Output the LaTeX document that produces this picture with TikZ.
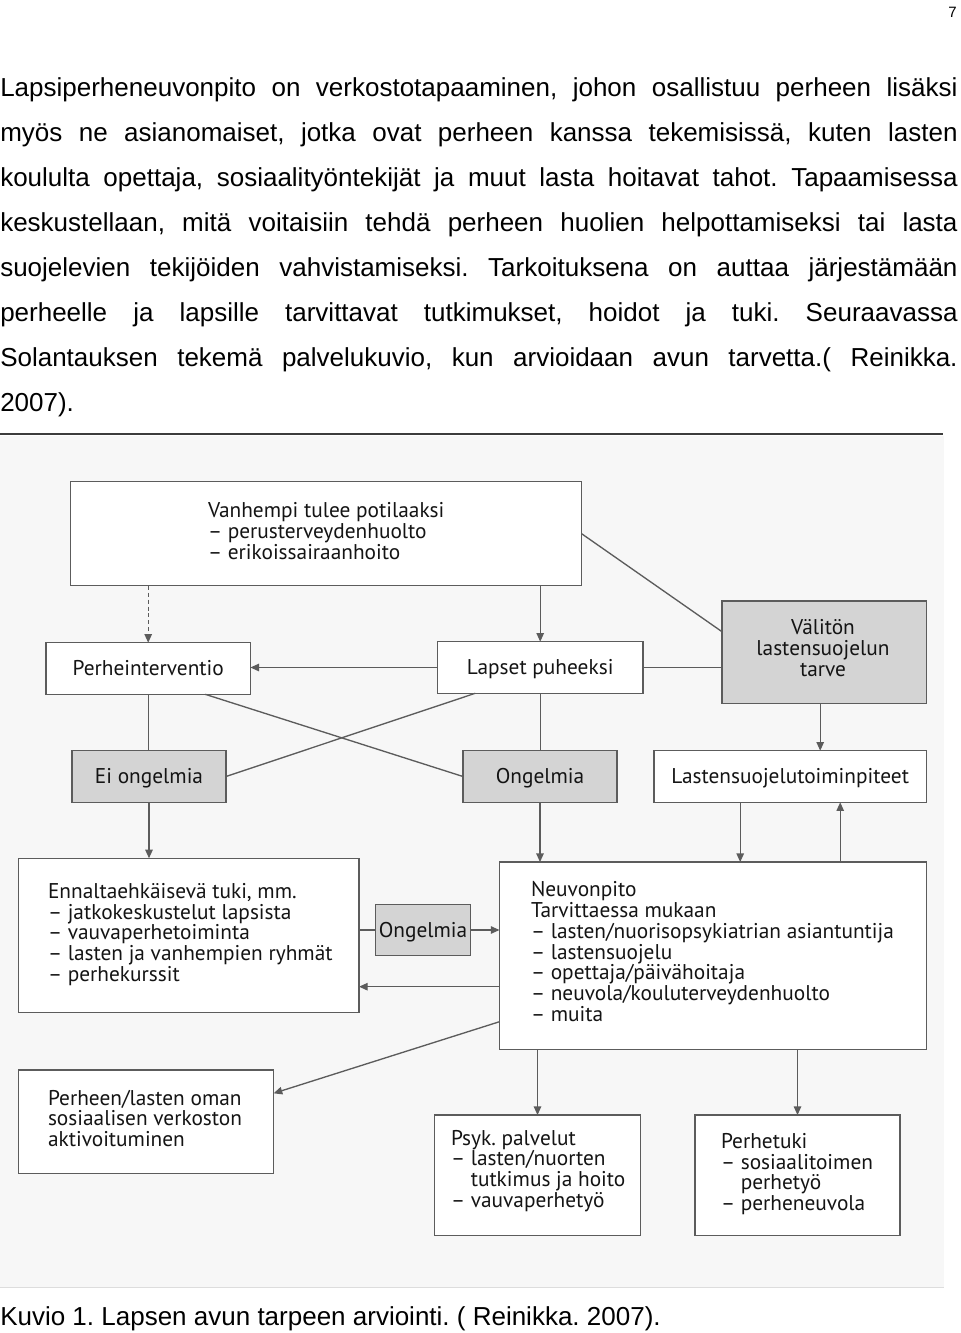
\documentclass[tikz,border=0pt]{standalone}
\usepackage{fontspec}
\setmainfont{Liberation Sans}
\newfontfamily\dfont{PT Sans}
\usetikzlibrary{arrows.meta,calc}
\frenchspacing
\definecolor{linec}{HTML}{5C5C5C}
\definecolor{boxg}{HTML}{D4D4D4}
\definecolor{bgc}{HTML}{F7F7F7}
\definecolor{bgline}{HTML}{DDDDDD}
\definecolor{txtc}{HTML}{141414}
\definecolor{rulec}{HTML}{3C3C3C}
\newcommand\bodyf{\fontsize{19.5pt}{33.75pt}\selectfont}
\newcommand\dsz{\dfont\fontsize{16pt}{15.6pt}\selectfont}
\newcommand\blk[1]{\parbox[t]{330pt}{\dsz\lineskiplimit=-20pt\raggedright #1}}
\newcommand\cblk[1]{\parbox[t]{150pt}{\dsz\lineskiplimit=-20pt\centering #1}}
\newcommand\ind{\hphantom{–\ }}
\begin{document}
\begin{tikzpicture}[x=0.75pt,y=-0.75pt,
  sz/.style 2 args={minimum width=#1*0.75pt,minimum height=#2*0.75pt},
  box/.style={draw=linec,line width=1pt,fill=white,inner sep=0pt,outer sep=0pt,
    font=\dsz,text=txtc,text height=11.2pt,text depth=0pt},
  gbox/.style={box,fill=boxg},
  txt/.style={anchor=base west,inner sep=0pt,outer sep=0pt,text=txtc},
  ctxt/.style={anchor=base,inner sep=0pt,outer sep=0pt,text=txtc},
  body/.style={anchor=base west,inner sep=0pt,font=\bodyf,text=black},
  ln/.style={draw=linec,line width=1pt},
  arr/.style={ln,-{Triangle[length=6.5pt,width=5.6pt]}}]
\useasboundingbox (0,0) rectangle (960,1333);

% page number
\node[anchor=base east,inner sep=0pt,font=\fontsize{11.25pt}{13pt}\selectfont] (pn) at (957,17.3) {7};

% body text
\node[body] (b1) at (0,96.7) {\makebox[718pt][s]{Lapsiperheneuvonpito on verkostotapaaminen, johon osallistuu perheen lisäksi}};
\node[body] (b2) at (0,141.7) {\makebox[718pt][s]{myös ne asianomaiset, jotka ovat perheen kanssa tekemisissä, kuten lasten}};
\node[body] (b3) at (0,186.7) {\makebox[718pt][s]{koululta opettaja, sosiaalityöntekijät ja muut lasta hoitavat tahot. Tapaamisessa}};
\node[body] (b4) at (0,231.7) {\makebox[718pt][s]{keskustellaan, mitä voitaisiin tehdä perheen huolien helpottamiseksi tai lasta}};
\node[body] (b5) at (0,276.7) {\makebox[718pt][s]{suojelevien tekijöiden vahvistamiseksi. Tarkoituksena on auttaa järjestämään}};
\node[body] (b6) at (0,321.7) {\makebox[718pt][s]{perheelle ja lapsille tarvittavat tutkimukset, hoidot ja tuki. Seuraavassa}};
\node[body] (b7) at (0,366.7) {\makebox[718pt][s]{Solantauksen tekemä palvelukuvio, kun arvioidaan avun tarvetta.( Reinikka.}};
\node[body] (b8) at (0,411.7) {2007).};

% figure background and rule
\fill[bgc] (0,436) rectangle (944,1287);
\draw[bgline] (0,1287) -- (944,1287);
\draw[rulec,line width=1.5pt] (0,434) -- (943,434);

% boxes
\node[box,sz={511}{104}] (van) at (326.1,533.7) {};
\node[box,sz={204.3}{51.6}] (per) at (148.2,668.5) {Perheinterventio};
\node[box,sz={205.6}{51.6}] (lap) at (540.2,667.5) {Lapset puheeksi};
\node[gbox,sz={204.4}{102.3}] (val) at (824.2,652.2) {};
\node[gbox,sz={154}{51.6}] (ei) at (149,776.5) {Ei ongelmia};
\node[gbox,sz={154}{51.6}] (ong) at (540,776.5) {Ongelmia};
\node[box,sz={272.4}{51.6}] (las) at (790.2,776.5) {Lastensuojelutoiminpiteet};
\node[box,sz={340.6}{154}] (enn) at (188.7,935.3) {};
\node[gbox,sz={95}{51}] (ong2) at (423,930) {Ongelmia};
\node[box,sz={427}{187.3}] (neu) at (713,955.7) {};
\node[box,sz={255.2}{103.3}] (phl) at (146,1121.7) {};
\node[box,sz={206.1}{120.7}] (psy) at (537.5,1175.4) {};
\node[box,sz={205}{120.7}] (pht) at (797.5,1175.4) {};

% texts in multi-line boxes
\node[txt] (vant) at (208,517.7) {\blk{Vanhempi tulee potilaaksi\\– perusterveydenhuolto\\– erikoissairaanhoito}};
\node[ctxt] (valt) at (823,634.5) {\cblk{Välitön\\lastensuojelun\\tarve}};
\node[txt] (ennt) at (48,898.3) {\blk{Ennaltaehkäisevä tuki, mm.\\– jatkokeskustelut lapsista\\– vauvaperhetoiminta\\– lasten ja vanhempien ryhmät\\– perhekurssit}};
\node[txt] (neut) at (531,896.7) {\blk{Neuvonpito\\Tarvittaessa mukaan\\– lasten/nuorisopsykiatrian asiantuntija\\– lastensuojelu\\– opettaja/päivähoitaja\\– neuvola/kouluterveydenhuolto\\– muita}};
\node[txt] (phlt) at (48,1105) {\blk{Perheen/lasten oman\\sosiaalisen verkoston\\aktivoituminen}};
\node[txt] (psyt) at (451,1145) {\blk{Psyk. palvelut\\– lasten/nuorten\\\ind tutkimus ja hoito\\– vauvaperhetyö}};
\node[txt] (phtt) at (721,1148.3) {\blk{Perhetuki\\– sosiaalitoimen\\\ind perhetyö\\– perheneuvola}};

% connectors
\draw[arr,dash pattern=on 3pt off 2.2pt] (van.south -| per) -- (per.north);
\draw[arr] (van.south -| lap) -- (lap.north);
\draw[ln] (van.east) -- ($(val.west)+(0,-20.5)$);
\draw[arr] (lap.west) -- (lap.west -| per.east);
\draw[ln] (lap.east) -- (lap.east -| val.west);
\draw[ln] (per.south) -- (per.south |- ei.north);
\draw[ln] (lap.south) -- (lap.south |- ong.north);
\draw[ln] ($(per.south)+(57,0)$) -- (ong.west);
\draw[ln] ($(lap.south)+(-65,0)$) -- (ei.east);
\coordinate (v1) at ($(val.south)+(-4,0)$);
\draw[arr] (v1) -- (v1 |- las.north);
\draw[arr] (ei.south) -- (ei.south |- enn.north);
\draw[arr] (ong.south) -- (ong.south |- neu.north);
\coordinate (l1) at ($(las.south)+(-50,0)$);
\coordinate (l2) at ($(las.south)+(50,0)$);
\draw[arr] (l1) -- (l1 |- neu.north);
\draw[arr] (l2 |- neu.north) -- (l2);
\draw[ln] (ong2.west -| enn.east) -- (ong2.west);
\draw[arr] (ong2.east) -- (ong2.east -| neu.west);
\coordinate (n1) at ($(neu.west)+(0,31)$);
\coordinate (n2) at ($(neu.west)+(0,66)$);
\draw[arr] (n1) -- (n1 -| enn.east);
\draw[arr] (n2) -- ($(phl.east)+(0,-28.4)$);
\draw[arr] (neu.south -| psy) -- (psy.north);
\draw[arr] (neu.south -| pht) -- (pht.north);

% caption
\node[body] (cap) at (0,1325.5) {Kuvio 1. Lapsen avun tarpeen arviointi. ( Reinikka. 2007).};
\end{tikzpicture}
\end{document}
